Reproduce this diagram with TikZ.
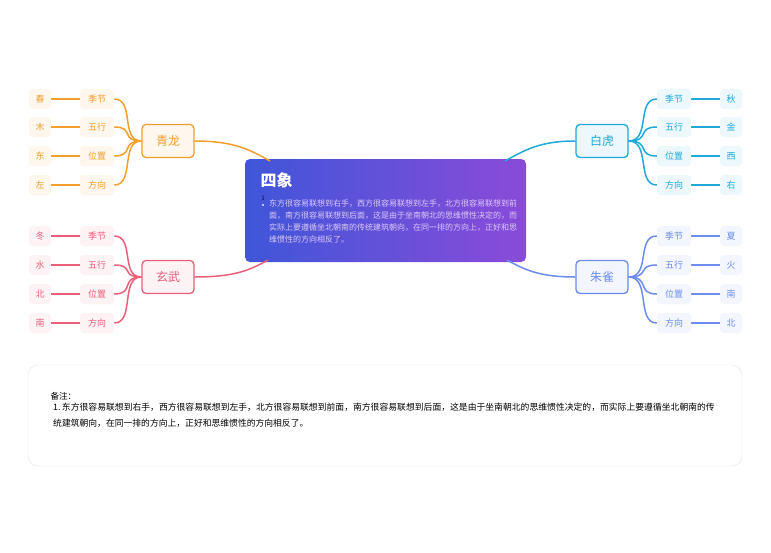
\documentclass[tikz,border=0pt]{standalone}
\usepackage{fontspec}
\newfontfamily\cjk{Noto Sans CJK SC}
\XeTeXlinebreaklocale "zh"
\XeTeXlinebreakskip=0pt plus 1pt
\usetikzlibrary{positioning,calc}
\definecolor{qlong}{HTML}{F29F2C}
\definecolor{xwu}{HTML}{EA6079}
\definecolor{bhu}{HTML}{1FAAD9}
\definecolor{zque}{HTML}{6C8CF0}
\definecolor{mainl}{HTML}{3F56D9}
\definecolor{mainr}{HTML}{8A4BD9}
\tikzset{
  branch/.style={draw=#1, fill=#1!8, line width=1.3pt, rounded corners=4pt,
    minimum width=52pt, minimum height=33pt, text=#1, font=\cjk\fontsize{12}{14}\selectfont},
  sub/.style={fill=#1!8, rounded corners=4pt, minimum width=34pt, minimum height=20pt,
    text=#1, font=\cjk\fontsize{9}{11}\selectfont},
  leaf/.style={fill=#1!8, rounded corners=4pt, minimum width=22pt, minimum height=20pt,
    text=#1, font=\cjk\fontsize{9}{11}\selectfont},
  link/.style={draw=#1, line width=1.5pt}
}
\begin{document}
\begin{tikzpicture}[x=1pt,y=-1pt]
\useasboundingbox (0,0) rectangle (771,552);
\fill[white] (0,0) rectangle (771,552);
% centre
\shade[left color=mainl, right color=mainr, rounded corners=5pt] (245,159) rectangle (526,262);
\node[inner sep=0] (main) at (385.5,210.5) [minimum width=281pt, minimum height=103pt] {};
\node[anchor=west, text=white, font=\cjk\bfseries\fontsize{16}{18}\selectfont] (title) at (257,180) {四象};
\node[anchor=west, font=\fontsize{7}{8}\selectfont, inner sep=0] (num) at (261,198) {1};
\node[anchor=north west, text=white!70!mainr, text width=248pt, inner sep=0, align=justify,
  font=\cjk\fontsize{8}{12}\selectfont] (desc) at (269,200)
  {东方很容易联想到右手，西方很容易联想到左手，北方很容易联想到前面，南方很容易联想到后面，这是由于坐南朝北的思维惯性决定的，而实际上要遵循坐北朝南的传统建筑朝向，在同一排的方向上，正好和思维惯性的方向相反了。};
\fill[white!70!mainl] (263,205) circle (1.3pt);
% branches
\node[branch=qlong] (qinglong) at (168,141) {青龙};
\node[branch=xwu] (xuanwu) at (168,277) {玄武};
\node[branch=bhu] (baihu) at (602,141) {白虎};
\node[branch=zque] (zhuque) at (602,277) {朱雀};
\draw[link=qlong] (qinglong.east) .. controls (235,141) and (250,150) .. (270,161);
\draw[link=xwu] (xuanwu.east) .. controls (235,277) and (250,270) .. (268,260);
\draw[link=bhu] (baihu.west) .. controls (540,141) and (525,150) .. (505,161);
\draw[link=zque] (zhuque.west) .. controls (540,277) and (525,270) .. (507,260);
% sub nodes and leaves
\foreach \name/\y/\lf in {qa/99/春, qb/127/木, qc/156/东, qd/185/左} {
  \node[sub=qlong] (\name) at (97,\y) {};
  \node[leaf=qlong] (\name l) at (40,\y) {\lf};
  \draw[link=qlong] (\name l.east) -- (\name.west);
  \draw[link=qlong] (\name.east) .. controls (135,\y) and (120,141) .. (qinglong.west);
}
\foreach \name/\y/\lf in {xa/236/冬, xb/265/水, xc/294/北, xd/323/南} {
  \node[sub=xwu] (\name) at (97,\y) {};
  \node[leaf=xwu] (\name l) at (40,\y) {\lf};
  \draw[link=xwu] (\name l.east) -- (\name.west);
  \draw[link=xwu] (\name.east) .. controls (135,\y) and (120,277) .. (xuanwu.west);
}
\foreach \name/\y/\lf in {ba/99/秋, bb/127/金, bc/156/西, bd/185/右} {
  \node[sub=bhu] (\name) at (674,\y) {};
  \node[leaf=bhu] (\name l) at (731,\y) {\lf};
  \draw[link=bhu] (\name.east) -- (\name l.west);
  \draw[link=bhu] (\name.west) .. controls (636,\y) and (651,141) .. (baihu.east);
}
\foreach \name/\y/\lf in {za/236/夏, zb/265/火, zc/294/南, zd/323/北} {
  \node[sub=zque] (\name) at (674,\y) {};
  \node[leaf=zque] (\name l) at (731,\y) {\lf};
  \draw[link=zque] (\name.east) -- (\name l.west);
  \draw[link=zque] (\name.west) .. controls (636,\y) and (651,277) .. (zhuque.east);
}
% sub labels
\foreach \name/\t in {qa/季节, qb/五行, qc/位置, qd/方向} \node[sub=qlong] at (\name) {\t};
\foreach \name/\t in {xa/季节, xb/五行, xc/位置, xd/方向} \node[sub=xwu] at (\name) {\t};
\foreach \name/\t in {ba/季节, bb/五行, bc/位置, bd/方向} \node[sub=bhu] at (\name) {\t};
\foreach \name/\t in {za/季节, zb/五行, zc/位置, zd/方向} \node[sub=zque] at (\name) {\t};
% note
\draw[black!10, rounded corners=10pt] (28,365) rectangle (742,466);
\node[anchor=west, font=\cjk\fontsize{8.5}{10}\selectfont] (notetitle) at (47,396) {备注：};
\node[anchor=north west, text width=662pt, inner sep=0, font=\cjk\fontsize{8.8}{16}\selectfont] (note) at (53,403)
  {\hangindent=10pt\hangafter=1 1.\,东方很容易联想到右手，西方很容易联想到左手，北方很容易联想到前面，南方很容易联想到后面，这是由于坐南朝北的思维惯性决定的，而实际上要遵循坐北朝南的传统建筑朝向，在同一排的方向上，正好和思维惯性的方向相反了。};
\end{tikzpicture}
\end{document}
